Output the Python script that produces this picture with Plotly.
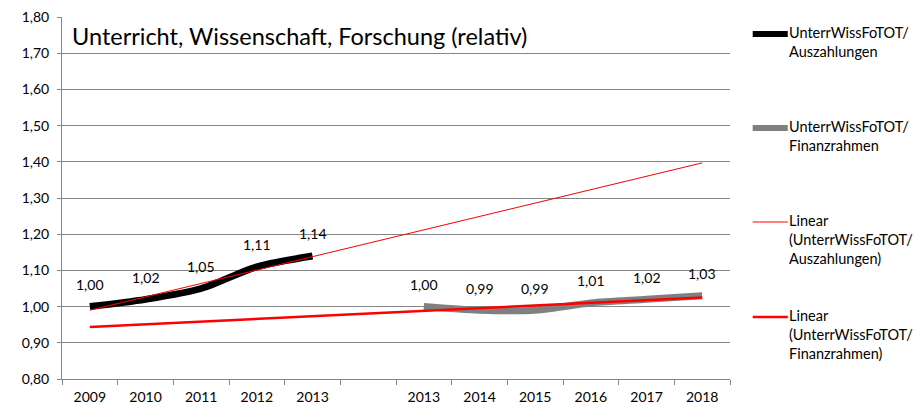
import numpy as np
import plotly.graph_objects as go

# Category positions: 2009-2013 (Auszahlungen), an empty slot, 2013-2018 (Finanzrahmen)
tick_labels = ["2009", "2010", "2011", "2012", "2013", "", "2013", "2014", "2015", "2016", "2017", "2018"]
x_all = list(range(len(tick_labels)))

x_ausz = [0, 1, 2, 3, 4]
y_ausz = [1.00, 1.02, 1.05, 1.11, 1.14]

x_fin = [6, 7, 8, 9, 10, 11]
y_fin = [1.00, 0.99, 0.99, 1.01, 1.02, 1.03]

name_ausz = "UnterrWissFoTOT/<br>Auszahlungen"
name_fin = "UnterrWissFoTOT/<br>Finanzrahmen"
name_lin_ausz = "Linear<br>(UnterrWissFoTOT/<br>Auszahlungen)"
name_lin_fin = "Linear<br>(UnterrWissFoTOT/<br>Finanzrahmen)"

FONT = "Lato, 'Open Sans', sans-serif"
AXIS_GREY = "#868686"

# Linear trends fitted on each series, drawn across the whole category range
k1, d1 = np.polyfit(x_ausz, y_ausz, 1)
k2, d2 = np.polyfit(x_fin, y_fin, 1)
x_trend = [x_all[0], x_all[-1]]

fig = go.Figure()
fig.add_trace(go.Scatter(x=x_ausz, y=y_ausz, mode="lines", name=name_ausz,
                         line=dict(color="black", width=7, shape="spline", smoothing=0.8)))
fig.add_trace(go.Scatter(x=x_fin, y=y_fin, mode="lines", name=name_fin,
                         line=dict(color="#808080", width=7, shape="spline", smoothing=0.8)))
fig.add_trace(go.Scatter(x=x_trend, y=[k1 * x + d1 for x in x_trend], mode="lines",
                         name=name_lin_ausz, line=dict(color="#ff0000", width=1)))
fig.add_trace(go.Scatter(x=x_trend, y=[k2 * x + d2 for x in x_trend], mode="lines",
                         name=name_lin_fin, line=dict(color="#ff0000", width=2.5)))

annotations = []
# value labels above each point
for xs, ys in ((x_ausz, y_ausz), (x_fin, y_fin)):
    for x, y in zip(xs, ys):
        annotations.append(dict(x=x, y=y, xref="x", yref="y", text=f"{y:.2f}".replace(".", ","),
                                showarrow=False, yshift=22, font=dict(size=14, color="#000")))

annotations.append(dict(x=0.012, y=0.948, xref="paper", yref="paper", xanchor="left", yanchor="middle",
                        text="Unterricht, Wissenschaft, Forschung (relativ)", showarrow=False,
                        font=dict(size=23.5, color="#000")))

# legend on the right, one sample line per entry
PLOT_TOP, PLOT_BOTTOM = 17, 379
shapes = []
legend_items = [
    (name_ausz, "black", 6, 34),
    (name_fin, "#808080", 6, 128),
    (name_lin_ausz, "#ff0000", 1, 222),
    (name_lin_fin, "#ff0000", 2.5, 317),
]
for label, color, w, ypx in legend_items:
    yp = 1 - (ypx - PLOT_TOP) / (PLOT_BOTTOM - PLOT_TOP)
    shapes.append(dict(type="line", xref="paper", yref="paper", x0=1.034, x1=1.0865, y0=yp, y1=yp,
                       line=dict(color=color, width=w)))
    annotations.append(dict(x=1.0855, y=yp + 12 / (PLOT_BOTTOM - PLOT_TOP), xref="paper", yref="paper",
                            xanchor="left", yanchor="top", align="left", text=label, showarrow=False,
                            font=dict(size=14.5, color="#000")))

fig.update_layout(
    width=914, height=411,
    margin=dict(l=62, r=184, t=PLOT_TOP, b=411 - PLOT_BOTTOM),
    paper_bgcolor="white", plot_bgcolor="white",
    font=dict(family=FONT, size=14, color="#000"),
    separators=",.",
    showlegend=False,
    annotations=annotations,
    shapes=shapes,
    xaxis=dict(range=[-0.5, 11.5], tickvals=x_all, ticktext=tick_labels, ticks="",
               showgrid=False, zeroline=False, showline=True, linecolor=AXIS_GREY, linewidth=1,
               tickfont=dict(size=14), ticklabelstandoff=5, automargin=False,
               minor=dict(tickvals=[i - 0.5 for i in range(13)], ticks="outside", ticklen=5,
                          tickcolor=AXIS_GREY, showgrid=False)),
    yaxis=dict(range=[0.8, 1.8], dtick=0.1, tickformat=".2f", ticks="outside", ticklen=4,
               tickcolor=AXIS_GREY, showgrid=True, gridcolor=AXIS_GREY, gridwidth=1,
               zeroline=False, showline=True, linecolor=AXIS_GREY, linewidth=1,
               tickfont=dict(size=14), ticklabelstandoff=5, automargin=False),
)

fig.write_html("out.html")
